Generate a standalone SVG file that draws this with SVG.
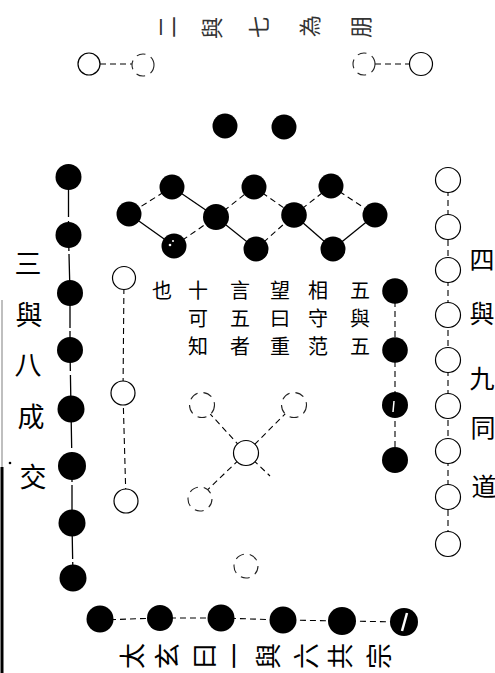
<svg xmlns="http://www.w3.org/2000/svg" width="495" height="673" viewBox="0 0 495 673">
<style>
.b{fill:#000}
.w{fill:#fff;stroke:#000;stroke-width:1.2}
.f{fill:#fff;stroke:#222;stroke-width:1.1;stroke-dasharray:9 6}
.s{stroke:#000;stroke-width:1.3;fill:none}
.d{stroke:#000;stroke-width:1.1;fill:none;stroke-dasharray:6 4}
.t{font-family:"Noto Sans CJK SC","Noto Sans CJK TC",sans-serif;fill:#000;text-anchor:middle;dominant-baseline:central}
.c{font-size:20px}
.l{font-size:27px}
.r{font-size:25px}
.hb{font-size:26px}
.ht{font-size:22px;fill:#333}
</style>
<rect width="495" height="673" fill="#fff"/>
<g id="border">
<line x1="2" y1="300" x2="2" y2="467" stroke="#aaa" stroke-width="1.5"/>
<line x1="2" y1="467" x2="2" y2="673" stroke="#000" stroke-width="3"/>
</g>
<g id="connectors">
<line class="d" x1="100" y1="64" x2="132" y2="64"/>
<line class="d" x1="375" y1="64" x2="410" y2="64"/>
<line class="d" x1="172" y1="187" x2="129" y2="214"/>
<line class="s" x1="172" y1="187" x2="216" y2="217"/>
<line class="s" x1="129" y1="214" x2="174" y2="246"/>
<line class="d" x1="174" y1="246" x2="216" y2="217"/>
<line class="d" x1="216" y1="217" x2="254" y2="187"/>
<line class="s" x1="216" y1="217" x2="256" y2="249"/>
<line class="d" x1="254" y1="187" x2="294" y2="215"/>
<line class="d" x1="256" y1="249" x2="294" y2="215"/>
<line class="d" x1="294" y1="215" x2="331" y2="186"/>
<line class="s" x1="294" y1="215" x2="333" y2="249"/>
<line class="d" x1="331" y1="186" x2="375" y2="215"/>
<line class="s" x1="333" y1="249" x2="375" y2="215"/>
<polyline class="s" stroke-dasharray="40 4 30 3" points="68.5,177 68.5,235 70,293 70,350 71,409 72,466 72,523 73,578"/>
<polyline class="d" stroke-dasharray="14 4" points="124,278 123,393 126,501"/>
<line class="d" x1="202" y1="405" x2="246" y2="453"/>
<line class="d" x1="294" y1="405" x2="246" y2="453"/>
<line class="d" x1="246" y1="453" x2="200" y2="497"/>
<line class="d" x1="246" y1="453" x2="270" y2="476"/>
<polyline class="d" points="395,291 395,350 395,405 395,460"/>
<line class="d" stroke-dasharray="12 4" x1="448" y1="180" x2="448" y2="544"/>
<polyline class="d" stroke-dasharray="10 5" points="100,620 160,618 221,618 283,620 342,621 404,622"/>
</g>
<g id="top-outer">
<g id="t7a"><circle class="w" cx="89" cy="64" r="11"/></g>
<g id="t7b"><circle class="f" cx="143" cy="65" r="11"/></g>
<g id="t7c"><circle class="f" cx="364" cy="64" r="11"/></g>
<g id="t7d"><circle class="w" cx="421" cy="64" r="11.5"/></g>
</g>
<g id="top-inner">
<g id="t2a"><circle class="b" cx="225" cy="126" r="12.5"/></g>
<g id="t2b"><circle class="b" cx="284" cy="127" r="12.5"/></g>
</g>
<g id="center-ten">
<g id="c10a"><circle class="b" cx="172" cy="187" r="12.5"/></g>
<g id="c10b"><circle class="b" cx="129" cy="214" r="12.5"/></g>
<g id="c10c"><circle class="b" cx="174" cy="246" r="12.5"/><circle cx="170" cy="245" r="1.3" fill="#fff"/><circle cx="173" cy="241" r="1" fill="#fff"/></g>
<g id="c10d"><circle class="b" cx="216" cy="217" r="13"/></g>
<g id="c10e"><circle class="b" cx="254" cy="187" r="12.5"/></g>
<g id="c10f"><circle class="b" cx="256" cy="249" r="12.5"/></g>
<g id="c10g"><circle class="b" cx="294" cy="215" r="12.8"/></g>
<g id="c10h"><circle class="b" cx="331" cy="186" r="12.5"/></g>
<g id="c10i"><circle class="b" cx="333" cy="249" r="12.5"/></g>
<g id="c10j"><circle class="b" cx="375" cy="215" r="12.5"/></g>
</g>
<g id="left-outer">
<g id="l8a"><circle class="b" cx="68.5" cy="177" r="13"/></g>
<g id="l8b"><circle class="b" cx="68.5" cy="235" r="13"/></g>
<g id="l8c"><circle class="b" cx="70" cy="293" r="13"/></g>
<g id="l8d"><circle class="b" cx="70" cy="350" r="13"/></g>
<g id="l8e"><circle class="b" cx="71" cy="409" r="13.5"/></g>
<g id="l8f"><circle class="b" cx="72" cy="466" r="14"/></g>
<g id="l8g"><circle class="b" cx="72" cy="523" r="13.5"/></g>
<g id="l8h"><circle class="b" cx="73" cy="578" r="13.5"/></g>
</g>
<g id="left-inner">
<g id="l3a"><circle class="w" cx="124" cy="278" r="11.5"/></g>
<g id="l3b"><circle class="w" cx="123" cy="393" r="12"/></g>
<g id="l3c"><circle class="w" cx="126" cy="501" r="12"/></g>
</g>
<g id="center-five">
<g id="c5a"><circle class="f" cx="202" cy="405" r="12.5"/></g>
<g id="c5b"><circle class="f" cx="294" cy="405" r="12.5"/></g>
<g id="c5c"><circle class="w" cx="246" cy="453" r="12.5"/></g>
<g id="c5d"><circle class="f" cx="200" cy="499" r="12"/></g>
</g>
<g id="bottom-inner">
<g id="b1"><circle class="f" cx="246" cy="566" r="12"/></g>
</g>
<g id="right-inner">
<g id="r4a"><circle class="b" cx="395" cy="291" r="12.8"/></g>
<g id="r4b"><circle class="b" cx="395" cy="350" r="12.8"/></g>
<g id="r4c"><circle class="b" cx="395" cy="405" r="13"/><line x1="394" y1="401" x2="393" y2="412" stroke="#fff" stroke-width="1.5"/></g>
<g id="r4d"><circle class="b" cx="395" cy="460" r="13"/></g>
</g>
<g id="right-outer">
<g id="r9a"><circle class="w" cx="448" cy="180" r="12.5"/></g>
<g id="r9b"><circle class="w" cx="448" cy="227" r="12.5"/></g>
<g id="r9c"><circle class="w" cx="448" cy="270" r="12.5"/></g>
<g id="r9d"><circle class="w" cx="448" cy="315" r="12.5"/></g>
<g id="r9e"><circle class="w" cx="448" cy="360" r="12.5"/></g>
<g id="r9f"><circle class="w" cx="448" cy="406" r="12.5"/></g>
<g id="r9g"><circle class="w" cx="448" cy="451" r="12.5"/></g>
<g id="r9h"><circle class="w" cx="448" cy="497" r="12.5"/></g>
<g id="r9i"><circle class="w" cx="448" cy="544" r="12.5"/></g>
</g>
<g id="bottom-outer">
<g id="b6a"><circle class="b" cx="100" cy="619" r="13.5"/></g>
<g id="b6b"><circle class="b" cx="160" cy="618" r="13"/></g>
<g id="b6c"><circle class="b" cx="221" cy="618" r="13.5"/></g>
<g id="b6d"><circle class="b" cx="283" cy="620" r="13.5"/></g>
<g id="b6e"><circle class="b" cx="342" cy="621" r="14"/></g>
<g id="b6f"><circle class="b" cx="404" cy="622" r="14"/><line x1="402" y1="631" x2="407" y2="613" stroke="#fff" stroke-width="2.5"/></g>
</g>
<g id="label-top" class="t ht">
<text transform="translate(165,27) rotate(-90)">二</text>
<text transform="translate(210,28) rotate(-90)">與</text>
<text transform="translate(257,27) rotate(-90)">七</text>
<text transform="translate(308,26) rotate(-90)">為</text>
<text transform="translate(359,27) rotate(-90)">朋</text>
</g>
<g id="label-left" class="t l">
<text x="28" y="262">三</text>
<text x="29" y="313">與</text>
<text x="28" y="363">八</text>
<text x="31" y="415">成</text>
<text x="33" y="475">交</text>
<circle cx="10" cy="463" r="1.3" fill="#000"/>
</g>
<g id="label-right" class="t r">
<text x="482" y="258">四</text>
<text x="482" y="312">與</text>
<text x="482" y="377">九</text>
<text x="483" y="426">同</text>
<text x="484" y="485">道</text>
</g>
<g id="label-center" class="t c">
<text x="360" y="289">五</text><text x="360" y="317">與</text><text x="360" y="345">五</text>
<text x="318" y="289">相</text><text x="318" y="317">守</text><text x="318" y="345">范</text>
<text x="280" y="289">望</text><text x="280" y="317">曰</text><text x="280" y="345">重</text>
<text x="240" y="289">言</text><text x="240" y="317">五</text><text x="240" y="345">者</text>
<text x="198" y="289">十</text><text x="198" y="317">可</text><text x="198" y="345">知</text>
<text x="162" y="289">也</text>
</g>
<g id="label-bottom" class="t hb">
<text transform="translate(130,656) rotate(-90)">太</text>
<text transform="translate(165,656) rotate(-90)">玄</text>
<text transform="translate(202,656) rotate(-90)">曰</text>
<text transform="translate(232,656) rotate(-90)">一</text>
<text transform="translate(266,656) rotate(-90)">與</text>
<text transform="translate(304,656) rotate(-90)">六</text>
<text transform="translate(338,656) rotate(-90)">共</text>
<text transform="translate(377,656) rotate(-90)">宗</text>
</g>
</svg>
